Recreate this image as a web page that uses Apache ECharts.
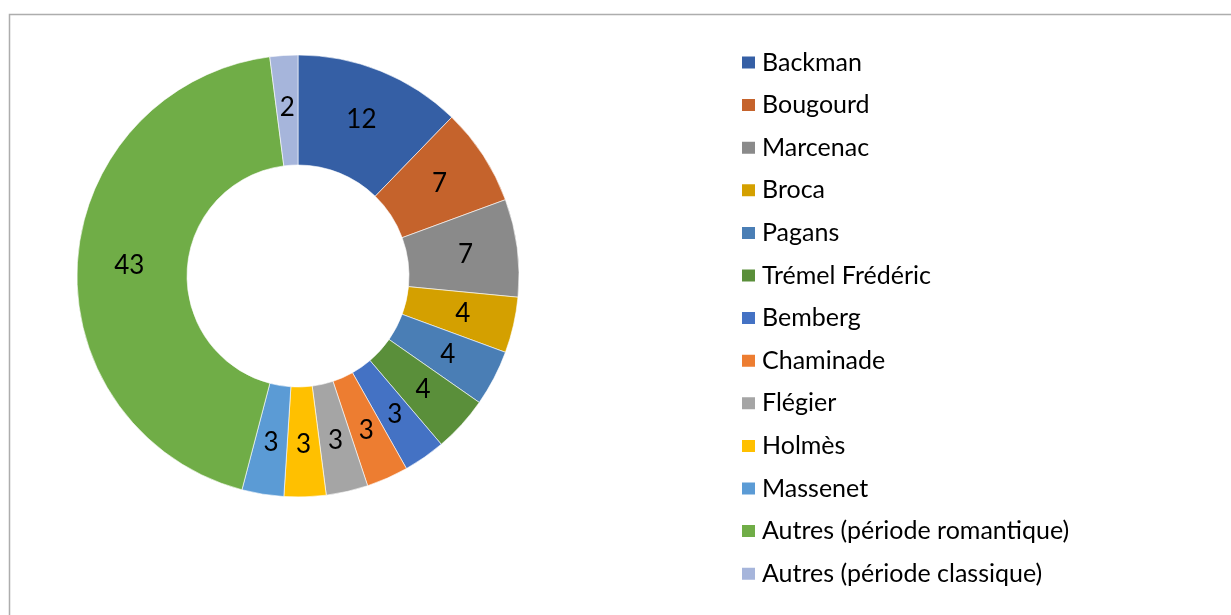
<!DOCTYPE html>
<html>
<head>
<meta charset="utf-8">
<title>Donut</title>
<script src="https://cdn.jsdelivr.net/npm/echarts@6/dist/echarts.min.js"></script>
<style>
html,body{margin:0;padding:0;background:#fff;}
#chart{width:1231px;height:615px;}
</style>
</head>
<body>
<div id="chart"></div>
<script>
// données du graphique
var noms=['Backman','Bougourd','Marcenac','Broca','Pagans','Trémel Frédéric','Bemberg','Chaminade','Flégier','Holmès','Massenet','Autres (période romantique)','Autres (période classique)'];
var valeurs=[12,7,7,4,4,4,3,3,3,3,3,43,2];
var couleurs=['#355FA5','#C5632C','#8A8A8A','#D4A000','#4A7EB5','#5A8F3A','#4472C4','#ED7D31','#A5A5A5','#FFC000','#5B9BD5','#70AD47','#A6B5DB'];

var donnees=[];
for(var i=0;i<noms.length;i++){
    donnees.push({name:noms[i],value:valeurs[i]});
}

var myChart=echarts.init(document.getElementById('chart'));
var option={
    backgroundColor:'#fff',
    animation:false,
    color:couleurs,
    textStyle:{fontFamily:'Lato'},
    graphic:[{
        type:'rect',
        shape:{x:9.5,y:14.5,width:1240,height:640},
        style:{fill:'none',stroke:'#ADADAD',lineWidth:1.5}
    }],
    legend:{
        orient:'vertical',
        left:740,
        top:50,
        padding:0,
        icon:'rect',
        itemWidth:15,
        itemHeight:14,
        itemGap:17.6,
        textStyle:{fontFamily:'Lato',fontSize:25,color:'#000',lineHeight:25,padding:[0,0,0,1]},
        data:noms
    },
    series:[{
        type:'pie',
        center:[298,276],
        radius:[111,221],
        startAngle:90,
        clockwise:true,
        avoidLabelOverlap:false,
        itemStyle:{borderColor:'#fff',borderWidth:0.6},
        label:{
            show:true,
            position:'inside',
            formatter:'{c}',
            color:'#000',
            fontFamily:'Lato',
            fontSize:26
        },
        labelLine:{show:false},
        emphasis:{disabled:true},
        data:donnees
    }]
};
myChart.setOption(option);
</script>
</body>
</html>
